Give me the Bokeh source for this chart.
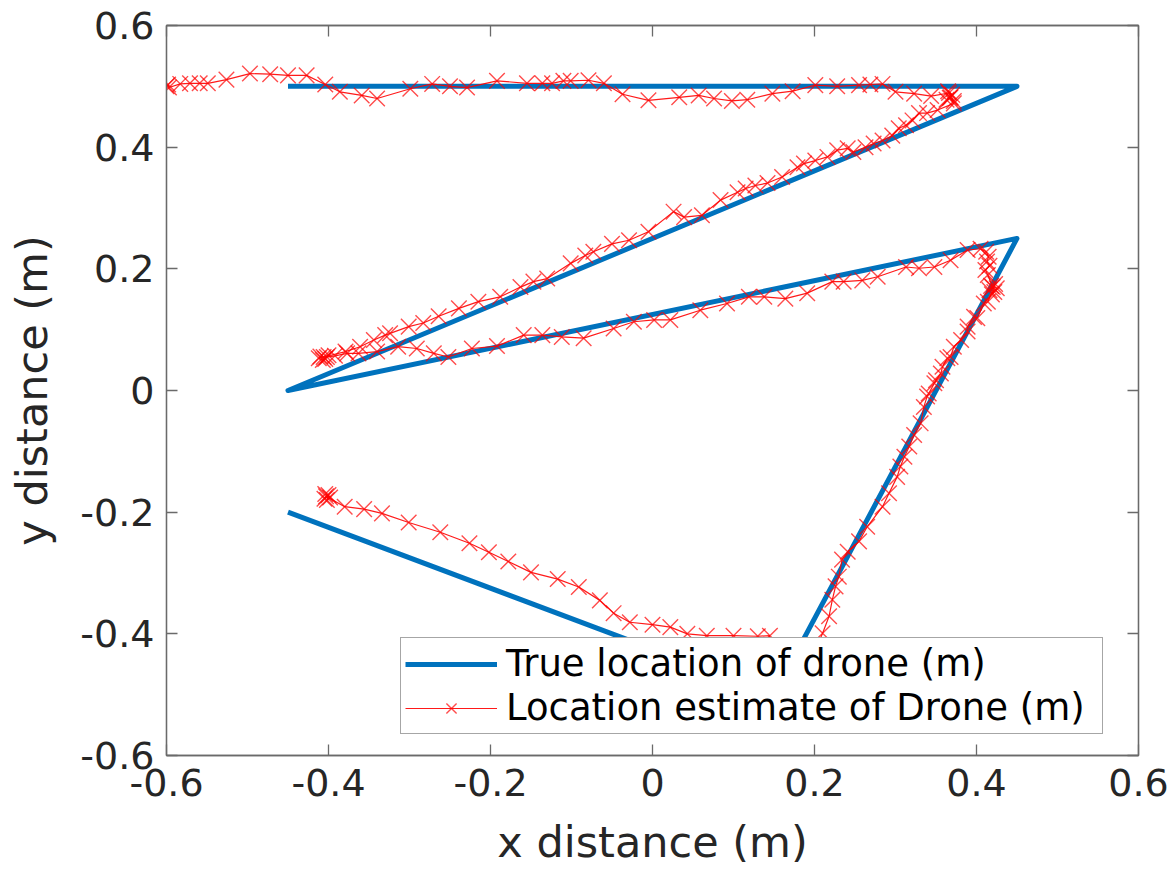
from bokeh.plotting import figure
from bokeh.models import LinearAxis, FixedTicker, CustomJSTickFormatter, Range1d, Legend, LegendItem
from bokeh.embed import file_html
from bokeh.resources import INLINE

# True trajectory of the drone
true_x = [-0.45, 0.45, -0.45, 0.45, 0.15, -0.45]
true_y = [0.50, 0.50, 0.00, 0.25, -0.50, -0.20]

# Location estimate
est_x = [
    -0.600, -0.598, -0.597, -0.583, -0.571, -0.559, -0.549, -0.526, -0.497, -0.472,
    -0.450, -0.427, -0.404, -0.386, -0.359, -0.340, -0.299, -0.272, -0.250, -0.229,
    -0.192, -0.155, -0.136, -0.124, -0.110, -0.101, -0.079, -0.060, -0.037, -0.005,
    0.033, 0.057, 0.076, 0.098, 0.117, 0.148, 0.173, 0.201, 0.228, 0.255,
    0.269, 0.284, 0.300, 0.323, 0.344, 0.366, 0.368, 0.363, 0.370, 0.365,
    0.372, 0.367, 0.372, 0.352, 0.339, 0.329, 0.321, 0.313, 0.304, 0.296,
    0.284, 0.273, 0.263, 0.248, 0.241, 0.228, 0.216, 0.201, 0.187, 0.179,
    0.160, 0.142, 0.127, 0.115, 0.105, 0.084, 0.061, 0.039, 0.026, -0.005,
    -0.029, -0.050, -0.073, -0.083, -0.101, -0.130, -0.147, -0.163, -0.188, -0.215,
    -0.239, -0.264, -0.283, -0.301, -0.324, -0.330, -0.344, -0.361, -0.379, -0.406,
    -0.410, -0.404, -0.400, -0.412, -0.407, -0.402, -0.392, -0.377, -0.363, -0.340,
    -0.314, -0.291, -0.270, -0.252, -0.223, -0.192, -0.159, -0.136, -0.112, -0.085,
    -0.048, -0.023, 0.002, 0.022, 0.059, 0.092, 0.119, 0.138, 0.164, 0.191,
    0.222, 0.236, 0.259, 0.278, 0.313, 0.329, 0.348, 0.368, 0.389, 0.405,
    0.412, 0.415, 0.413, 0.416, 0.411, 0.414, 0.420, 0.416, 0.422, 0.418,
    0.425, 0.419, 0.423, 0.414, 0.409, 0.401, 0.397, 0.389, 0.389, 0.381,
    0.372, 0.368, 0.364, 0.358, 0.356, 0.350, 0.348, 0.341, 0.339, 0.335,
    0.331, 0.323, 0.317, 0.311, 0.306, 0.302, 0.292, 0.284, 0.265, 0.255,
    0.241, 0.234, 0.230, 0.226, 0.222, 0.218, 0.210, 0.200, 0.190, 0.170,
    0.150, 0.130, 0.145, 0.130, 0.100, 0.067, 0.043, 0.022, 0.000, -0.028,
    -0.048, -0.065, -0.091, -0.117, -0.150, -0.178, -0.202, -0.226, -0.262, -0.301,
    -0.334, -0.356, -0.380, -0.403, -0.405, -0.400, -0.402, -0.398, -0.404,
]
est_y = [
    0.500, 0.503, 0.498, 0.504, 0.505, 0.505, 0.505, 0.511, 0.521, 0.520,
    0.518, 0.518, 0.503, 0.491, 0.485, 0.480, 0.496, 0.504, 0.500, 0.498,
    0.509, 0.505, 0.505, 0.505, 0.509, 0.509, 0.510, 0.505, 0.487, 0.477,
    0.482, 0.485, 0.480, 0.476, 0.478, 0.488, 0.492, 0.502, 0.500, 0.502,
    0.503, 0.504, 0.491, 0.488, 0.484, 0.489, 0.482, 0.478, 0.486, 0.492,
    0.476, 0.481, 0.472, 0.461, 0.456, 0.456, 0.444, 0.436, 0.431, 0.419,
    0.411, 0.406, 0.400, 0.392, 0.398, 0.395, 0.384, 0.378, 0.373, 0.367,
    0.351, 0.341, 0.337, 0.332, 0.326, 0.313, 0.288, 0.285, 0.294, 0.261,
    0.247, 0.241, 0.228, 0.222, 0.209, 0.184, 0.179, 0.170, 0.154, 0.146,
    0.135, 0.122, 0.111, 0.105, 0.094, 0.091, 0.083, 0.072, 0.064, 0.055,
    0.056, 0.052, 0.058, 0.053, 0.050, 0.055, 0.057, 0.061, 0.061, 0.064,
    0.072, 0.069, 0.061, 0.055, 0.069, 0.073, 0.091, 0.091, 0.088, 0.086,
    0.102, 0.113, 0.116, 0.116, 0.132, 0.143, 0.154, 0.154, 0.151, 0.160,
    0.179, 0.179, 0.181, 0.187, 0.203, 0.201, 0.203, 0.214, 0.231, 0.233,
    0.228, 0.220, 0.212, 0.205, 0.198, 0.190, 0.170, 0.165, 0.162, 0.172,
    0.168, 0.158, 0.175, 0.146, 0.143, 0.119, 0.121, 0.105, 0.097, 0.083,
    0.072, 0.055, 0.053, 0.039, 0.028, 0.017, 0.012, -0.005, -0.010, -0.027,
    -0.054, -0.073, -0.092, -0.109, -0.125, -0.142, -0.169, -0.191, -0.224, -0.248,
    -0.265, -0.278, -0.306, -0.322, -0.344, -0.371, -0.399, -0.430, -0.460, -0.470,
    -0.460, -0.440, -0.403, -0.404, -0.403, -0.403, -0.400, -0.389, -0.385, -0.381,
    -0.366, -0.345, -0.323, -0.310, -0.299, -0.281, -0.266, -0.251, -0.233, -0.217,
    -0.202, -0.195, -0.191, -0.174, -0.178, -0.172, -0.180, -0.176, -0.170,
]

tick_values = [-0.6, -0.4, -0.2, 0, 0.2, 0.4, 0.6]
x_label = "x distance (m)"
y_label = "y distance (m)"
legend_labels = ["True location of drone (m)", "Location estimate of Drone (m)"]

FONT = "DejaVu Sans"
AX_COLOR = "#6a6a6a"
TXT_COLOR = "#262626"

p = figure(width=1176, height=869,
           x_range=Range1d(-0.6, 0.6), y_range=Range1d(-0.6, 0.6),
           output_backend="svg", toolbar_location=None,
           min_border_left=166, min_border_right=38,
           min_border_top=25, min_border_bottom=113)

p.grid.visible = False
p.outline_line_color = AX_COLOR
p.outline_line_width = 1.3
p.background_fill_color = "white"
p.border_fill_color = "white"

fmt = CustomJSTickFormatter(code="return Math.abs(tick) < 1e-9 ? '0' : tick.toFixed(1);")

p.add_layout(LinearAxis(), "above")
p.add_layout(LinearAxis(), "right")

for ax in p.xaxis + p.yaxis:
    ax.ticker = FixedTicker(ticks=tick_values)
    ax.formatter = fmt
    ax.axis_line_color = AX_COLOR
    ax.axis_line_width = 1.3
    ax.major_tick_line_color = AX_COLOR
    ax.major_tick_line_width = 1.3
    ax.major_tick_in = 11
    ax.major_tick_out = 0
    ax.minor_tick_in = 0
    ax.minor_tick_out = 0
    ax.major_label_text_font = FONT
    ax.major_label_text_color = TXT_COLOR
    ax.axis_label_text_font = FONT
    ax.axis_label_text_font_style = "normal"
    ax.axis_label_text_color = TXT_COLOR

# mirrored axes: ticks only, labels not drawn
for ax in (p.above[0], p.right[0]):
    ax.major_label_text_font_size = "8px"
    ax.major_label_text_color = None
    ax.major_label_standoff = 0

bx = p.below[0]
bx.axis_label = x_label
bx.major_label_text_font_size = "38px"
bx.axis_label_text_font_size = "43px"
bx.major_label_standoff = 13
bx.axis_label_standoff = 18

ly = p.left[0]
ly.axis_label = y_label
ly.major_label_text_font_size = "38px"
ly.axis_label_text_font_size = "43px"
ly.major_label_standoff = 12
ly.axis_label_standoff = 20

r_true = p.line(true_x, true_y, line_color="#0072BD", line_width=5, line_join="round")
r_est_line = p.line(est_x, est_y, line_color="#FF0000", line_width=1.2, line_alpha=0.9)
r_est_pts = p.scatter(est_x, est_y, marker="x", size=22, line_color="#FF0000", line_width=1.4, line_alpha=0.7)

legend = Legend(items=[
    LegendItem(label=legend_labels[0], renderers=[r_true]),
    LegendItem(label=legend_labels[1], renderers=[r_est_line, r_est_pts]),
], location=(234, 21))
legend.label_text_font = FONT
legend.label_text_font_size = "37px"
legend.label_text_color = "#000000"
legend.glyph_width = 92
legend.glyph_height = 36
legend.label_height = 36
legend.label_width = 592
legend.label_standoff = 9
legend.spacing = 1
legend.padding = 4
legend.margin = 0
legend.border_line_color = "#4d4d4d"
legend.border_line_width = 1.3
legend.background_fill_color = "white"
legend.background_fill_alpha = 1.0
p.add_layout(legend, "center")

open("out.html", "w").write(file_html(p, INLINE))
